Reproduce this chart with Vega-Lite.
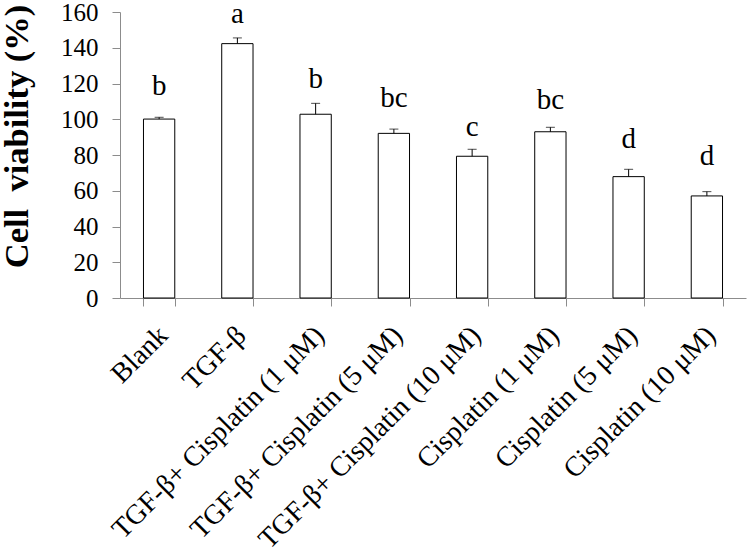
{
  "$schema": "https://vega.github.io/schema/vega-lite/v6.json",
  "autosize": "none",
  "padding": {"left": 120, "top": 12, "right": 4, "bottom": 253},
  "width": 626,
  "height": 286,
  "background": "white",
  "config": {
    "view": {"stroke": null},
    "font": "Liberation Serif",
    "text": {"font": "Liberation Serif"},
    "axis": {
      "labelFont": "Liberation Serif",
      "titleFont": "Liberation Serif",
      "labelColor": "black",
      "titleColor": "black",
      "tickColor": "#8c8c8c",
      "domainColor": "#8c8c8c",
      "grid": false,
      "labelOverlap": false
    },
    "axisY": {
      "labelFontSize": 25,
      "labelPadding": 14,
      "tickSize": 8,
      "tickCount": 8,
      "titleFontSize": 34.5,
      "titleFontWeight": "bold",
      "titlePadding": 26,
      "titleY": 124
    },
    "axisX": {
      "labelFontSize": 28,
      "labelAngle": -45,
      "labelAlign": "right",
      "labelBaseline": "middle",
      "labelPadding": 25,
      "labelOffset": 4,
      "labelLimit": 0,
      "tickSize": 8,
      "tickBand": "extent"
    }
  },
  "data": {"values": [
    {"group": "Blank", "viability": 100.1, "err": 1.0, "letter": "b", "letter_y": 113.6},
    {"group": "TGF-β", "viability": 142.3, "err": 3.2, "letter": "a", "letter_y": 153.7},
    {"group": "TGF-β+ Cisplatin (1 μM)", "viability": 102.8, "err": 6.1, "letter": "b", "letter_y": 117.3},
    {"group": "TGF-β+ Cisplatin (5 μM)", "viability": 92.1, "err": 2.4, "letter": "bc", "letter_y": 106.7},
    {"group": "TGF-β+ Cisplatin (10 μM)", "viability": 79.3, "err": 3.9, "letter": "c", "letter_y": 90.6},
    {"group": "Cisplatin (1 μM)", "viability": 93.0, "err": 2.5, "letter": "bc", "letter_y": 105.6},
    {"group": "Cisplatin (5 μM)", "viability": 67.9, "err": 4.1, "letter": "d", "letter_y": 83.7},
    {"group": "Cisplatin (10 μM)", "viability": 57.1, "err": 2.4, "letter": "d", "letter_y": 74.4}
  ]},
  "transform": [{"calculate": "datum.viability + datum.err", "as": "upper"}],
  "encoding": {
    "x": {
      "field": "group", "type": "nominal", "sort": null,
      "scale": {"paddingInner": 0.6, "paddingOuter": 0.3},
      "axis": {"title": null}
    }
  },
  "layer": [
    {
      "mark": {"type": "bar", "fill": "white", "stroke": "black", "strokeWidth": 1},
      "encoding": {
        "y": {
          "field": "viability", "type": "quantitative",
          "scale": {"domain": [0, 160], "nice": false},
          "axis": {"title": "Cell\u00a0 viability (%)"}
        }
      }
    },
    {
      "mark": {"type": "rule", "color": "black", "strokeWidth": 1},
      "encoding": {
        "y": {"field": "viability", "type": "quantitative"},
        "y2": {"field": "upper"}
      }
    },
    {
      "mark": {"type": "tick", "color": "black", "thickness": 1, "size": 9, "orient": "horizontal"},
      "encoding": {
        "y": {"field": "upper", "type": "quantitative"}
      }
    },
    {
      "mark": {"type": "text", "font": "Liberation Serif", "fontSize": 29, "color": "black", "baseline": "alphabetic", "align": "center"},
      "encoding": {
        "y": {"field": "letter_y", "type": "quantitative"},
        "text": {"field": "letter"}
      }
    }
  ]
}
